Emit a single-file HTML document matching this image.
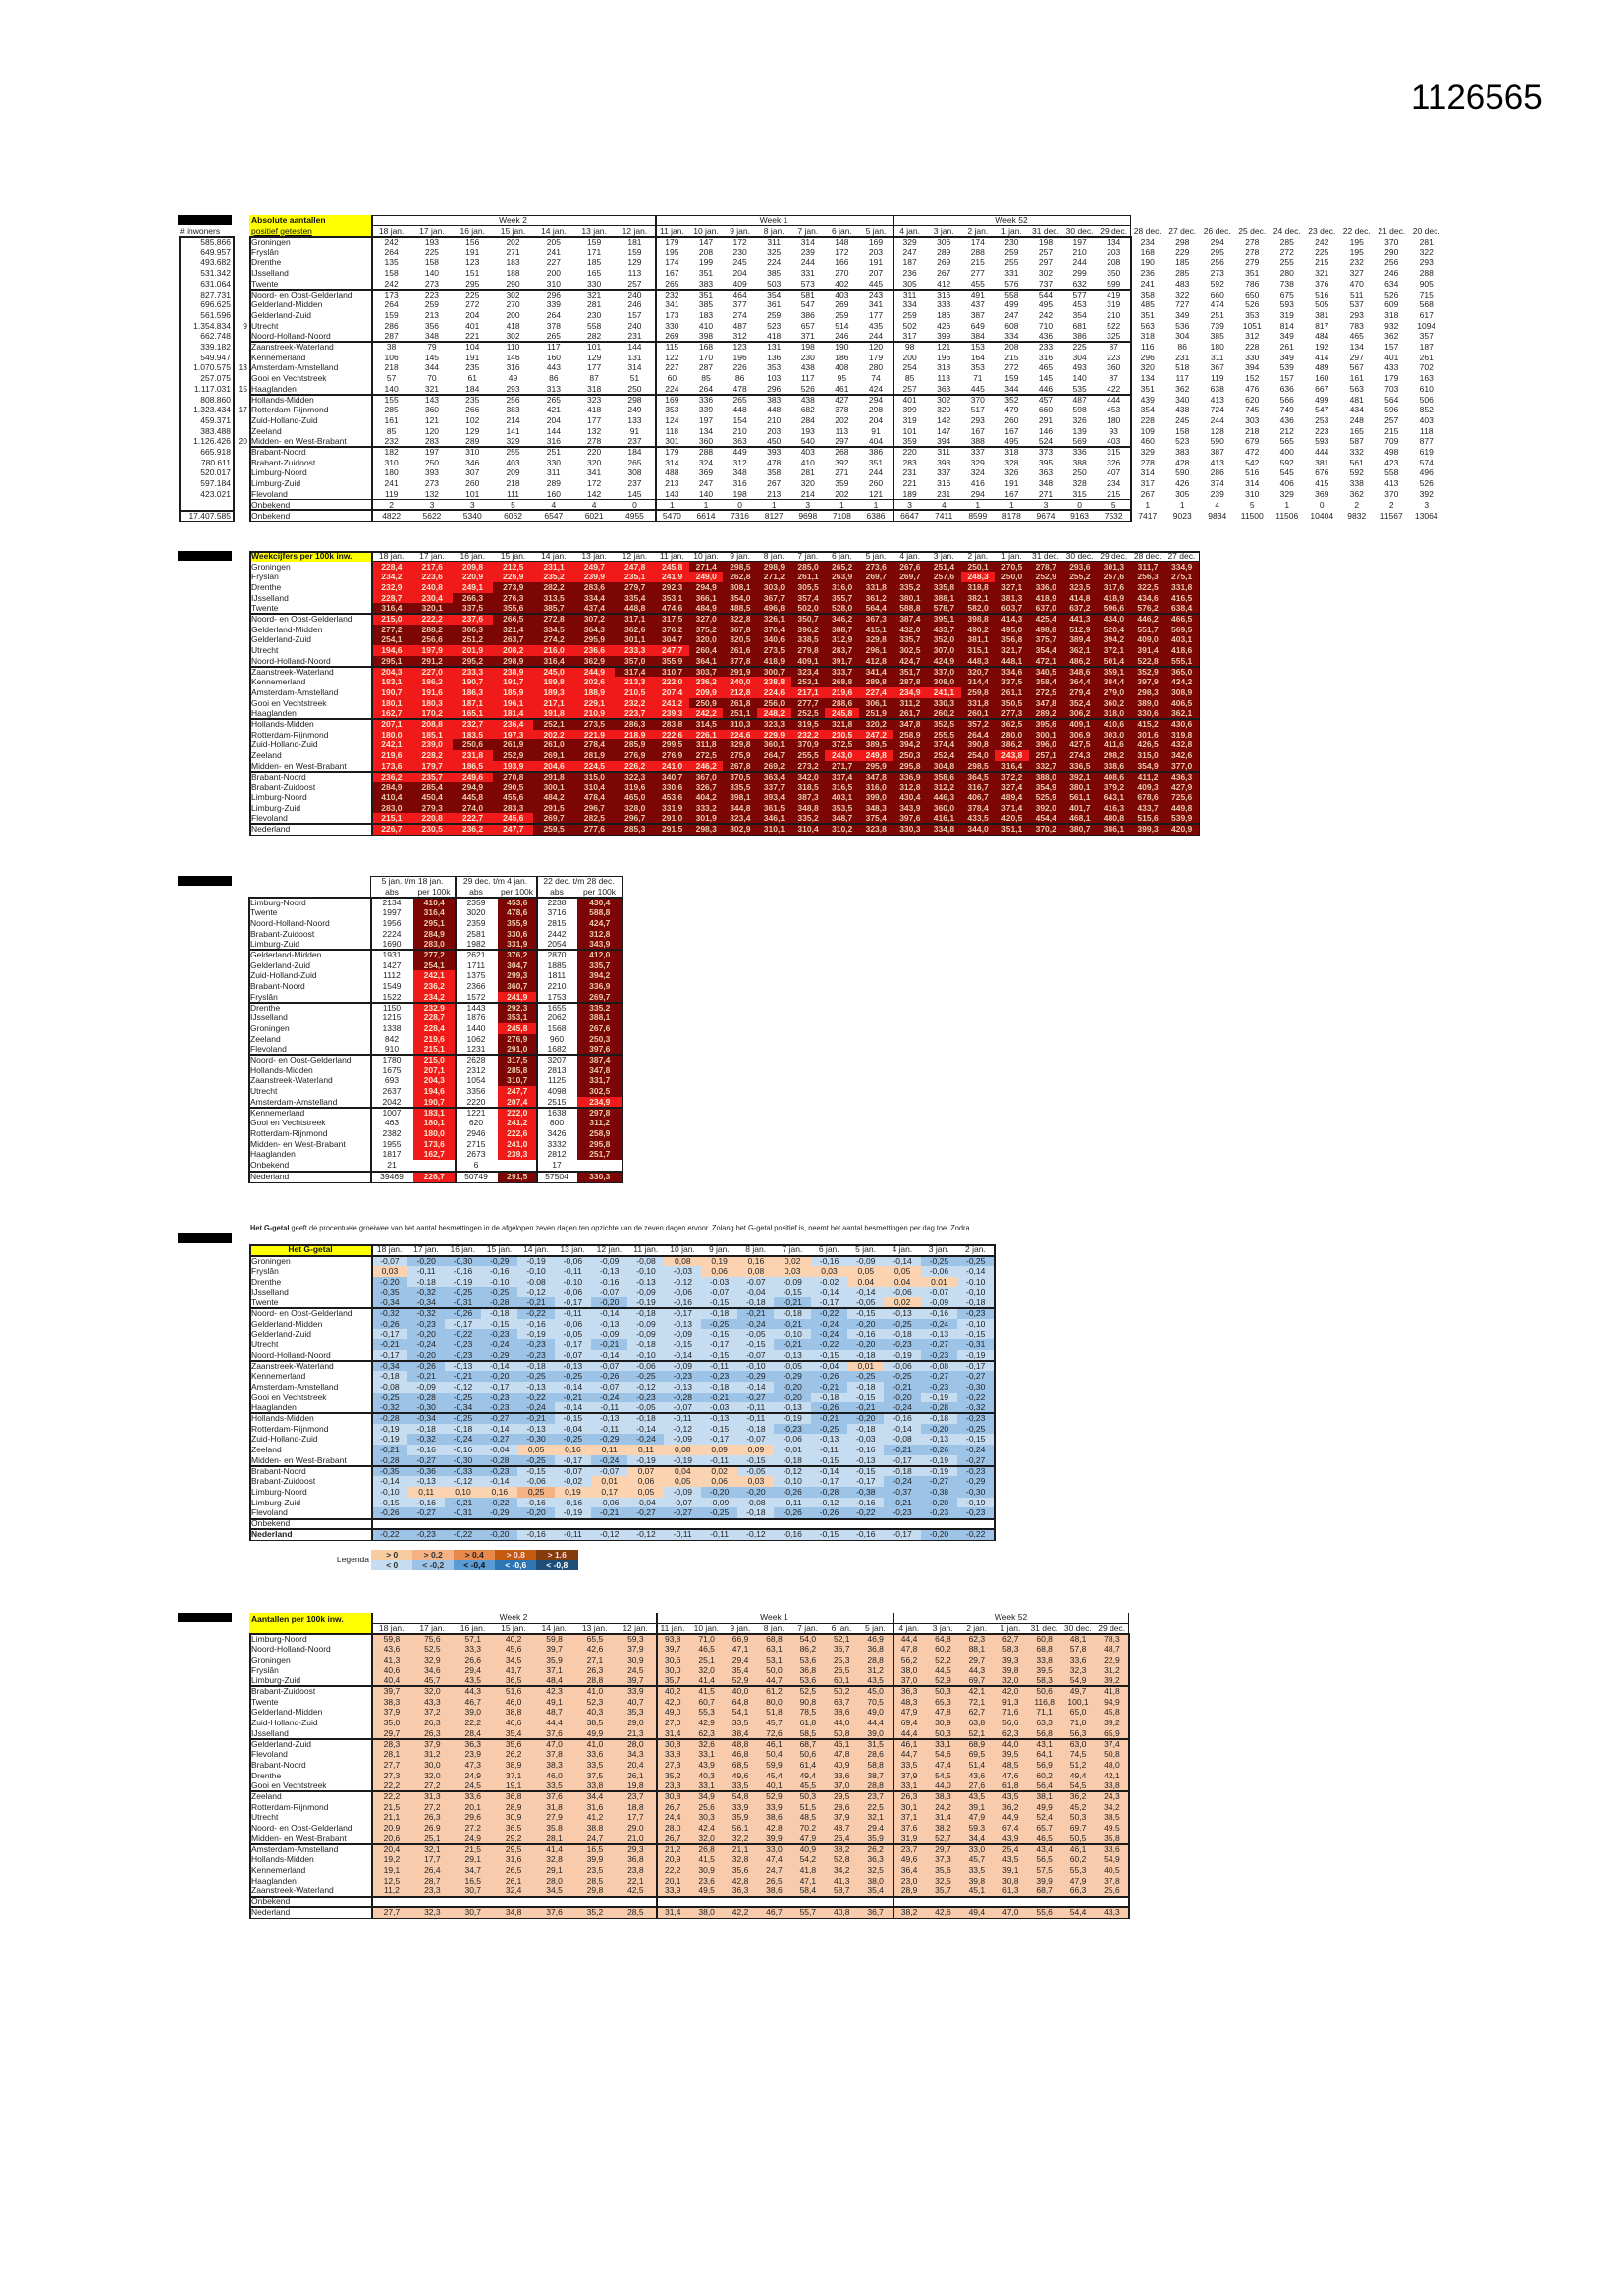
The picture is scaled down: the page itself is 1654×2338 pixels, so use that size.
<!DOCTYPE html>
<html><head><meta charset="utf-8">
<style>
html,body{margin:0;padding:0;background:#fff;}
#p{position:relative;width:1654px;height:2338px;overflow:hidden;background:#fff;font-family:"Liberation Sans Narrow","Liberation Sans",sans-serif;color:#222;}
.c{position:absolute;box-sizing:border-box;font-size:8.5px;white-space:nowrap;overflow:hidden;text-align:center;}
.l{position:absolute;background:#1a1a1a;}
</style></head><body><div id="p">
<div style="position:absolute;left:1437px;top:80px;font-family:'Liberation Sans',sans-serif;font-size:35px;color:#000;">1126565</div>
<div class="c" style="left:255px;top:1245px;width:880px;height:11px;line-height:11px;text-align:left;font-size:8.6px;transform:scaleX(0.86);transform-origin:0 0;"><b>Het G-getal</b> geeft de procentuele groeiwee van het aantal besmettingen in de afgelopen zeven dagen ten opzichte van de zeven dagen ervoor. Zolang het G-getal positief is, neemt het aantal besmettingen per dag toe. Zodra</div>
</div>
<script>
const P=document.getElementById('p');
function box(x,y,w,h,css,txt){const d=document.createElement('div');d.className='c';d.style.cssText='left:'+x+'px;top:'+y+'px;width:'+w+'px;height:'+h+'px;line-height:'+h+'px;'+(css||'');if(txt!=null)d.textContent=txt;P.appendChild(d);return d;}
function hl(x1,x2,y,t){const d=document.createElement('div');d.className='l';d.style.cssText='left:'+x1+'px;top:'+y+'px;width:'+(x2-x1)+'px;height:'+(t||1)+'px;';P.appendChild(d);}
function vl(x,y1,y2,t){const d=document.createElement('div');d.className='l';d.style.cssText='left:'+x+'px;top:'+y1+'px;width:'+(t||1)+'px;height:'+(y2-y1)+'px;';P.appendChild(d);}
function rect(x1,y1,x2,y2,t){hl(x1,x2,y1,t);hl(x1,x2+(t||1),y2,t);vl(x1,y1,y2,t);vl(x2,y1,y2,t);}
function edges(s,sp){const a=[s];for(const [n,w] of sp)for(let i=0;i<n;i++)a.push(a[a.length-1]+w);return a;}
function blk(y,h){box(181,y,55,h||10,'background:#000;');}
const RN=["Groningen","Fryslân","Drenthe","IJsselland","Twente","Noord- en Oost-Gelderland","Gelderland-Midden","Gelderland-Zuid","Utrecht","Noord-Holland-Noord","Zaanstreek-Waterland","Kennemerland","Amsterdam-Amstelland","Gooi en Vechtstreek","Haaglanden","Hollands-Midden","Rotterdam-Rijnmond","Zuid-Holland-Zuid","Zeeland","Midden- en West-Brabant","Brabant-Noord","Brabant-Zuidoost","Limburg-Noord","Limburg-Zuid","Flevoland"];
const YEL='background:#ffff00;font-weight:bold;color:#111;';
const D1=["18 jan.","17 jan.","16 jan.","15 jan.","14 jan.","13 jan.","12 jan.","11 jan.","10 jan.","9 jan.","8 jan.","7 jan.","6 jan.","5 jan.","4 jan.","3 jan.","2 jan.","1 jan.","31 dec.","30 dec.","29 dec.","28 dec.","27 dec.","26 dec.","25 dec.","24 dec.","23 dec.","22 dec.","21 dec.","20 dec."];
const fmt=v=>String(v).replace('.',',');
function groupLines(x1,x2,y0,rh,n){for(let g=5;g<n;g+=5)hl(x1,x2,Math.round(y0+g*rh)-1,2);}

/* ---------- TABLE 1 ---------- */
(function(){
const T=`585.866|242 193 156 202 205 159 181 179 147 172 311 314 148 169 329 306 174 230 198 197 134|234 298 294 278 285 242 195 370 281
649.957|264 225 191 271 241 171 159 195 208 230 325 239 172 203 247 289 288 259 257 210 203|168 229 295 278 272 225 195 290 322
493.682|135 158 123 183 227 185 129 174 199 245 224 244 166 191 187 269 215 255 297 244 208|190 185 256 279 255 215 232 256 293
531.342|158 140 151 188 200 165 113 167 351 204 385 331 270 207 236 267 277 331 302 299 350|236 285 273 351 280 321 327 246 288
631.064|242 273 295 290 310 330 257 265 383 409 503 573 402 445 305 412 455 576 737 632 599|241 483 592 786 738 376 470 634 905
827.731|173 223 225 302 296 321 240 232 351 464 354 581 403 243 311 316 491 558 544 577 419|358 322 660 650 675 516 511 526 715
696.625|264 259 272 270 339 281 246 341 385 377 361 547 269 341 334 333 437 499 495 453 319|485 727 474 526 593 505 537 609 568
561.596|159 213 204 200 264 230 157 173 183 274 259 386 259 177 259 186 387 247 242 354 210|351 349 251 353 319 381 293 318 617
1.354.834|286 356 401 418 378 558 240 330 410 487 523 657 514 435 502 426 649 608 710 681 522|563 536 739 1051 814 817 783 932 1094
662.748|287 348 221 302 265 282 231 269 398 312 418 371 246 244 317 399 384 334 436 386 325|318 304 385 312 349 484 465 362 357
339.182|38 79 104 110 117 101 144 115 168 123 131 198 190 120 98 121 153 208 233 225 87|116 86 180 228 261 192 134 157 187
549.947|106 145 191 146 160 129 131 122 170 196 136 230 186 179 200 196 164 215 316 304 223|296 231 311 330 349 414 297 401 261
1.070.575|218 344 235 316 443 177 314 227 287 226 353 438 408 280 254 318 353 272 465 493 360|320 518 367 394 539 489 567 433 702
257.075|57 70 61 49 86 87 51 60 85 86 103 117 95 74 85 113 71 159 145 140 87|134 117 119 152 157 160 161 179 163
1.117.031|140 321 184 293 313 318 250 224 264 478 296 526 461 424 257 363 445 344 446 535 422|351 362 638 476 636 667 563 703 610
808.860|155 143 235 256 265 323 298 169 336 265 383 438 427 294 401 302 370 352 457 487 444|439 340 413 620 566 499 481 564 506
1.323.434|285 360 266 383 421 418 249 353 339 448 448 682 378 298 399 320 517 479 660 598 453|354 438 724 745 749 547 434 596 852
459.371|161 121 102 214 204 177 133 124 197 154 210 284 202 204 319 142 293 260 291 326 180|228 245 244 303 436 253 248 257 403
383.488|85 120 129 141 144 132 91 118 134 210 203 193 113 91 101 147 167 167 146 139 93|109 158 128 218 212 223 165 215 118
1.126.426|232 283 289 329 316 278 237 301 360 363 450 540 297 404 359 394 388 495 524 569 403|460 523 590 679 565 593 587 709 877
665.918|182 197 310 255 251 220 184 179 288 449 393 403 268 386 220 311 337 318 373 336 315|329 383 387 472 400 444 332 498 619
780.611|310 250 346 403 330 320 265 314 324 312 478 410 392 351 283 393 329 328 395 388 326|278 428 413 542 592 381 561 423 574
520.017|180 393 307 209 311 341 308 488 369 348 358 281 271 244 231 337 324 326 363 250 407|314 590 286 516 545 676 592 558 496
597.184|241 273 260 218 289 172 237 213 247 316 267 320 359 260 221 316 416 191 348 328 234|317 426 374 314 406 415 338 413 526
423.021|119 132 101 111 160 142 145 143 140 198 213 214 202 121 189 231 294 167 271 315 215|267 305 239 310 329 369 362 370 392`.split('\n');
const E=edges(378,[[7,41.3],[7,34.6],[7,34.6]]),X=edges(1151,[[9,35.5]]);
blk(219);
box(254,219,124,21,YEL+'line-height:10.5px;text-align:left;padding-left:2px;white-space:normal;');
P.lastChild.innerHTML='Absolute aantallen<br><span style="font-weight:normal;text-decoration:underline">positief getesten</span>';
box(183,230,60,10,'text-align:left;','# inwoners');
rect(378,219,1151,240);hl(378,1151,229);
box(378,219,289,10,'','Week 2');box(667,219,242,10,'','Week 1');box(909,219,242,10,'','Week 52');
for(let i=0;i<21;i++)box(E[i],230,E[i+1]-E[i],10,'',D1[i]);
for(let i=0;i<9;i++)box(X[i],230,35.5,10,'',D1[21+i]);
const y0=241,rh=10.7;
rect(182,y0-1,237,519,1.5);rect(182,519.5,237,530.5,1.5);
rect(254,y0-1,1151,530.5,1.5);vl(378,219,531,2);vl(667,219,531,1.5);vl(909,219,531,1.5);
groupLines(254,1151,y0,rh,25);hl(254,1151,508,1);hl(254,1151,518,2);
const nums={8:'9',12:'13',14:'15',16:'17',19:'20'};
T.forEach((r,i)=>{const [inh,a,b]=r.split('|');const y=y0+i*rh;
 box(184,y,51,rh,'text-align:right;',inh);
 if(nums[i])box(237,y,16,rh,'text-align:right;padding-right:1px;',nums[i]);
 box(256,y,122,rh,'text-align:left;',RN[i]);
 a.split(' ').forEach((v,j)=>box(E[j],y,E[j+1]-E[j],rh,'',v));
 b.split(' ').forEach((v,j)=>box(X[j],y,35.5,rh,'',v));});
let y=y0+25*rh;
box(256,y,122,rh,'text-align:left;','Onbekend');
"2 3 3 5 4 4 0 1 1 0 1 3 1 1 3 4 1 1 3 0 5".split(' ').forEach((v,j)=>box(E[j],y,E[j+1]-E[j],rh,'',v));
"1 1 4 5 1 0 2 2 3".split(' ').forEach((v,j)=>box(X[j],y,35.5,rh,'',v));
y=520;box(184,y,51,rh,'text-align:right;','17.407.585');box(256,y,122,rh,'text-align:left;','Onbekend');
"4822 5622 5340 6062 6547 6021 4955 5470 6614 7316 8127 9698 7108 6386 6647 7411 8599 8178 9674 9163 7532".split(' ').forEach((v,j)=>box(E[j],y,E[j+1]-E[j],rh,'',v));
"7417 9023 9834 11500 11506 10404 9832 11567 13064".split(' ').forEach((v,j)=>box(X[j],y,35.5,rh,'',v));
})();

/* ---------- TABLE 2 ---------- */
(function(){
const T=`228.4 217.6 209.8 212.5 231.1 249.7 247.8 245.8 271.4 298.5 298.9 285.0 265.2 273.6 267.6 251.4 250.1 270.5 278.7 293.6 301.3 311.7 334.9
234.2 223.6 220.9 226.9 235.2 239.9 235.1 241.9 249.0 262.8 271.2 261.1 263.9 269.7 269.7 257.6 248.3 250.0 252.9 255.2 257.6 256.3 275.1
232.9 240.8 249.1 273.9 282.2 283.6 279.7 292.3 294.9 308.1 303.0 305.5 316.0 331.8 335.2 335.8 318.8 327.1 336.0 323.5 317.6 322.5 331.8
228.7 230.4 266.3 276.3 313.5 334.4 335.4 353.1 366.1 354.0 367.7 357.4 355.7 361.2 380.1 388.1 382.1 381.3 418.9 414.8 418.9 434.6 416.5
316.4 320.1 337.5 355.6 385.7 437.4 448.8 474.6 484.9 488.5 496.8 502.0 528.0 564.4 588.8 578.7 582.0 603.7 637.0 637.2 596.6 576.2 638.4
215.0 222.2 237.6 266.5 272.8 307.2 317.1 317.5 327.0 322.8 326.1 350.7 346.2 367.3 387.4 395.1 398.8 414.3 425.4 441.3 434.0 446.2 466.5
277.2 288.2 306.3 321.4 334.5 364.3 362.6 376.2 375.2 367.8 376.4 396.2 388.7 415.1 432.0 433.7 490.2 495.0 498.8 512.9 520.4 551.7 569.5
254.1 256.6 251.2 263.7 274.2 295.9 301.1 304.7 320.0 320.5 340.6 338.5 312.9 329.8 335.7 352.0 381.1 356.8 375.7 389.4 394.2 409.0 403.1
194.6 197.9 201.9 208.2 216.0 236.6 233.3 247.7 260.4 261.6 273.5 279.8 283.7 296.1 302.5 307.0 315.1 321.7 354.4 362.1 372.1 391.4 418.6
295.1 291.2 295.2 298.9 316.4 362.9 357.0 355.9 364.1 377.8 418.9 409.1 391.7 412.8 424.7 424.9 448.3 448.1 472.1 486.2 501.4 522.8 555.1
204.3 227.0 233.3 238.9 245.0 244.9 317.4 310.7 303.7 291.9 300.7 323.4 333.7 341.4 351.7 337.0 320.7 334.6 340.5 348.6 359.1 352.9 365.0
183.1 186.2 190.7 191.7 189.8 202.6 213.3 222.0 236.2 240.0 238.8 253.1 268.8 289.8 287.8 308.0 314.4 337.5 358.4 364.4 384.4 397.9 424.2
190.7 191.6 186.3 185.9 189.3 188.9 210.5 207.4 209.9 212.8 224.6 217.1 219.6 227.4 234.9 241.1 259.8 261.1 272.5 279.4 279.0 298.3 308.9
180.1 180.3 187.1 196.1 217.1 229.1 232.2 241.2 250.9 261.8 256.0 277.7 288.6 306.1 311.2 330.3 331.8 350.5 347.8 352.4 360.2 389.0 406.5
162.7 170.2 165.1 181.4 191.8 210.9 223.7 239.3 242.2 251.1 248.2 252.5 245.8 251.9 261.7 260.2 260.1 277.3 289.2 306.2 318.0 330.6 362.1
207.1 208.8 232.7 236.4 252.1 273.5 286.3 283.8 314.5 310.3 323.3 319.5 321.8 320.2 347.8 352.5 357.2 362.5 395.6 409.1 410.6 415.2 430.6
180.0 185.1 183.5 197.3 202.2 221.9 218.9 222.6 226.1 224.6 229.9 232.2 230.5 247.2 258.9 255.5 264.4 280.0 300.1 306.9 303.0 301.6 319.8
242.1 239.0 250.6 261.9 261.0 278.4 285.9 299.5 311.8 329.8 360.1 370.9 372.5 389.5 394.2 374.4 390.8 386.2 396.0 427.5 411.6 426.5 432.8
219.6 228.2 231.8 252.9 269.1 281.9 276.9 276.9 272.5 275.9 264.7 255.5 243.0 249.8 250.3 252.4 254.0 243.8 257.1 274.3 298.2 315.0 342.6
173.6 179.7 186.5 193.9 204.6 224.5 226.2 241.0 246.2 267.8 269.2 273.2 271.7 295.9 295.8 304.8 298.5 316.4 332.7 336.5 338.6 354.9 377.0
236.2 235.7 249.6 270.8 291.8 315.0 322.3 340.7 367.0 370.5 363.4 342.0 337.4 347.8 336.9 358.6 364.5 372.2 388.0 392.1 408.6 411.2 436.3
284.9 285.4 294.9 290.5 300.1 310.4 319.6 330.6 326.7 335.5 337.7 318.5 316.5 316.0 312.8 312.2 316.7 327.4 354.9 380.1 379.2 409.3 427.9
410.4 450.4 445.8 455.6 484.2 478.4 465.0 453.6 404.2 398.1 393.4 387.3 403.1 399.0 430.4 446.3 406.7 489.4 525.9 561.1 643.1 678.6 725.6
283.0 279.3 274.0 283.3 291.5 296.7 328.0 331.9 333.2 344.8 361.5 348.8 353.5 348.3 343.9 360.0 378.4 371.4 392.0 401.7 416.3 433.7 449.8
215.1 220.8 222.7 245.6 269.7 282.5 296.7 291.0 301.9 323.4 346.1 335.2 348.7 375.4 397.6 416.1 433.5 420.5 454.4 468.1 480.8 515.6 539.9
226.7 230.5 236.2 247.7 259.5 277.6 285.3 291.5 298.3 302.9 310.1 310.4 310.2 323.8 330.3 334.8 344.0 351.1 370.2 380.7 386.1 399.3 420.9`.split('\n');
const E=edges(378,[[7,41.3],[7,34.6],[9,34.6]]);
blk(561);
box(254,561,124,10.5,YEL+'text-align:left;padding-left:2px;','Weekcijfers per 100k inw.');
for(let i=0;i<23;i++)box(E[i],561,E[i+1]-E[i],10.5,'',D1[i]);
const y0=571.5,rh=10.7,x2=E[23];
T.forEach((r,i)=>{const y=y0+i*rh;
 box(256,y,122,rh,'text-align:left;',i<25?RN[i]:'Nederland');
 r.split(' ').forEach((v,j)=>{const f=parseFloat(v);box(E[j],y,E[j+1]-E[j]+0.5,rh+0.5,(f<250?'background:#f01a1a;color:#ffe6cc;':'background:#7c0505;color:#e9cba6;')+'font-weight:bold;',fmt(v));});});
rect(254,561,x2,y0+26*rh,1.5);vl(378,561,y0+26*rh,2);hl(378,x2,571);
groupLines(254,x2,y0,rh,26);
})();

/* ---------- TABLE 3 ---------- */
(function(){
const T=`Limburg-Noord|2134 410.4 2359 453.6 2238 430.4
Twente|1997 316.4 3020 478.6 3716 588.8
Noord-Holland-Noord|1956 295.1 2359 355.9 2815 424.7
Brabant-Zuidoost|2224 284.9 2581 330.6 2442 312.8
Limburg-Zuid|1690 283.0 1982 331.9 2054 343.9
Gelderland-Midden|1931 277.2 2621 376.2 2870 412.0
Gelderland-Zuid|1427 254.1 1711 304.7 1885 335.7
Zuid-Holland-Zuid|1112 242.1 1375 299.3 1811 394.2
Brabant-Noord|1549 236.2 2366 360.7 2210 336.9
Fryslân|1522 234.2 1572 241.9 1753 269.7
Drenthe|1150 232.9 1443 292.3 1655 335.2
IJsselland|1215 228.7 1876 353.1 2062 388.1
Groningen|1338 228.4 1440 245.8 1568 267.6
Zeeland|842 219.6 1062 276.9 960 250.3
Flevoland|910 215.1 1231 291.0 1682 397.6
Noord- en Oost-Gelderland|1780 215.0 2628 317.5 3207 387.4
Hollands-Midden|1675 207.1 2312 285.8 2813 347.8
Zaanstreek-Waterland|693 204.3 1054 310.7 1125 331.7
Utrecht|2637 194.6 3356 247.7 4098 302.5
Amsterdam-Amstelland|2042 190.7 2220 207.4 2515 234.9
Kennemerland|1007 183.1 1221 222.0 1638 297.8
Gooi en Vechtstreek|463 180.1 620 241.2 800 311.2
Rotterdam-Rijnmond|2382 180.0 2946 222.6 3426 258.9
Midden- en West-Brabant|1955 173.6 2715 241.0 3332 295.8
Haaglanden|1817 162.7 2673 239.3 2812 251.7`.split('\n');
const E=[377,421,463,507,546,588,633];
blk(892);
const G=["5 jan. t/m 18 jan.","29 dec. t/m 4 jan.","22 dec. t/m 28 dec."];
for(let g=0;g<3;g++){box(E[2*g],892,E[2*g+2]-E[2*g],10.5,'',G[g]);box(E[2*g],902.5,E[2*g+1]-E[2*g],10.5,'','abs');box(E[2*g+1],902.5,E[2*g+2]-E[2*g+1],10.5,'','per 100k');}
const y0=913.5,rh=10.7;
T.forEach((r,i)=>{const [n,v]=r.split('|');const y=y0+i*rh;box(255,y,122,rh,'text-align:left;',n);
 v.split(' ').forEach((s,j)=>{if(j%2){const f=parseFloat(s);box(E[j],y,E[j+1]-E[j]+0.5,rh+0.5,(f<250?'background:#f01a1a;color:#ffe6cc;':'background:#7c0505;color:#e9cba6;')+'font-weight:bold;',fmt(s));}else box(E[j],y,E[j+1]-E[j],rh,'',s);});});
let y=y0+25*rh;box(255,y,122,rh,'text-align:left;','Onbekend');box(377,y,44,rh,'','21');box(463,y,44,rh,'','6');box(546,y,42,rh,'','17');
y=1192.5;box(255,y,122,rh,'text-align:left;','Nederland');
["39469","226.7","50749","291.5","57504","330.3"].forEach((s,j)=>{if(j%2){const f=parseFloat(s);box(E[j],y,E[j+1]-E[j]+0.5,rh+0.5,(f<250?'background:#f01a1a;color:#ffe6cc;':'background:#7c0505;color:#e9cba6;')+'font-weight:bold;',fmt(s));}else box(E[j],y,E[j+1]-E[j],rh,'',s);});
rect(377,892,633,913);vl(463,892,1204,1.5);vl(546,892,1204,1.5);
rect(253,913,633,1191.5,1.5);vl(377,913,1204,1.5);groupLines(253,633,y0,rh,25);
rect(253,1192,633,1203.5,1.5);
})();

/* ---------- TABLE 4 ---------- */
(function(){
const T=`-0.07 -0.20 -0.30 -0.29 -0.19 -0.06 -0.09 -0.08 0.08 0.19 0.16 0.02 -0.16 -0.09 -0.14 -0.25 -0.25
0.03 -0.11 -0.16 -0.16 -0.10 -0.11 -0.13 -0.10 -0.03 0.06 0.08 0.03 0.03 0.05 0.05 -0.06 -0.14
-0.20 -0.18 -0.19 -0.10 -0.08 -0.10 -0.16 -0.13 -0.12 -0.03 -0.07 -0.09 -0.02 0.04 0.04 0.01 -0.10
-0.35 -0.32 -0.25 -0.25 -0.12 -0.06 -0.07 -0.09 -0.06 -0.07 -0.04 -0.15 -0.14 -0.14 -0.06 -0.07 -0.10
-0.34 -0.34 -0.31 -0.28 -0.21 -0.17 -0.20 -0.19 -0.16 -0.15 -0.18 -0.21 -0.17 -0.05 0.02 -0.09 -0.18
-0.32 -0.32 -0.26 -0.18 -0.22 -0.11 -0.14 -0.18 -0.17 -0.18 -0.21 -0.18 -0.22 -0.15 -0.13 -0.16 -0.23
-0.26 -0.23 -0.17 -0.15 -0.16 -0.06 -0.13 -0.09 -0.13 -0.25 -0.24 -0.21 -0.24 -0.20 -0.25 -0.24 -0.10
-0.17 -0.20 -0.22 -0.23 -0.19 -0.05 -0.09 -0.09 -0.09 -0.15 -0.05 -0.10 -0.24 -0.16 -0.18 -0.13 -0.15
-0.21 -0.24 -0.23 -0.24 -0.23 -0.17 -0.21 -0.18 -0.15 -0.17 -0.15 -0.21 -0.22 -0.20 -0.23 -0.27 -0.31
-0.17 -0.20 -0.23 -0.29 -0.23 -0.07 -0.14 -0.10 -0.14 -0.15 -0.07 -0.13 -0.15 -0.18 -0.19 -0.23 -0.19
-0.34 -0.26 -0.13 -0.14 -0.18 -0.13 -0.07 -0.06 -0.09 -0.11 -0.10 -0.05 -0.04 0.01 -0.06 -0.08 -0.17
-0.18 -0.21 -0.21 -0.20 -0.25 -0.25 -0.26 -0.25 -0.23 -0.23 -0.29 -0.29 -0.26 -0.25 -0.25 -0.27 -0.27
-0.08 -0.09 -0.12 -0.17 -0.13 -0.14 -0.07 -0.12 -0.13 -0.18 -0.14 -0.20 -0.21 -0.18 -0.21 -0.23 -0.30
-0.25 -0.28 -0.25 -0.23 -0.22 -0.21 -0.24 -0.23 -0.28 -0.21 -0.27 -0.20 -0.18 -0.15 -0.20 -0.19 -0.22
-0.32 -0.30 -0.34 -0.23 -0.24 -0.14 -0.11 -0.05 -0.07 -0.03 -0.11 -0.13 -0.26 -0.21 -0.24 -0.28 -0.32
-0.28 -0.34 -0.25 -0.27 -0.21 -0.15 -0.13 -0.18 -0.11 -0.13 -0.11 -0.19 -0.21 -0.20 -0.16 -0.18 -0.23
-0.19 -0.18 -0.18 -0.14 -0.13 -0.04 -0.11 -0.14 -0.12 -0.15 -0.18 -0.23 -0.25 -0.18 -0.14 -0.20 -0.25
-0.19 -0.32 -0.24 -0.27 -0.30 -0.25 -0.29 -0.24 -0.09 -0.17 -0.07 -0.06 -0.13 -0.03 -0.08 -0.13 -0.15
-0.21 -0.16 -0.16 -0.04 0.05 0.16 0.11 0.11 0.08 0.09 0.09 -0.01 -0.11 -0.16 -0.21 -0.26 -0.24
-0.28 -0.27 -0.30 -0.28 -0.25 -0.17 -0.24 -0.19 -0.19 -0.11 -0.15 -0.18 -0.15 -0.13 -0.17 -0.19 -0.27
-0.35 -0.36 -0.33 -0.23 -0.15 -0.07 -0.07 0.07 0.04 0.02 -0.05 -0.12 -0.14 -0.15 -0.18 -0.19 -0.23
-0.14 -0.13 -0.12 -0.14 -0.06 -0.02 0.01 0.06 0.05 0.06 0.03 -0.10 -0.17 -0.17 -0.24 -0.27 -0.29
-0.10 0.11 0.10 0.16 0.25 0.19 0.17 0.05 -0.09 -0.20 -0.20 -0.26 -0.28 -0.38 -0.37 -0.38 -0.30
-0.15 -0.16 -0.21 -0.22 -0.16 -0.16 -0.06 -0.04 -0.07 -0.09 -0.08 -0.11 -0.12 -0.16 -0.21 -0.20 -0.19
-0.26 -0.27 -0.31 -0.29 -0.20 -0.19 -0.21 -0.27 -0.27 -0.25 -0.18 -0.26 -0.26 -0.22 -0.23 -0.23 -0.23`.split('\n');
const NL="-0.22 -0.23 -0.22 -0.20 -0.16 -0.11 -0.12 -0.12 -0.11 -0.11 -0.12 -0.16 -0.15 -0.16 -0.17 -0.20 -0.22";
const E=edges(378,[[17,37.3]]),x2=E[17];
const col=f=>f>0.2?'#f4b183':f>0?'#fbd3b0':f<=-0.2?'#9dc3e6':'#c6dcf0';
blk(1256);
box(254,1267,124,11,YEL,'Het G-getal');
for(let i=0;i<17;i++)box(E[i],1267,37.3,11,'',D1[i]);
const y0=1278.5,rh=10.7;
const row=(s,y)=>s.split(' ').forEach((v,j)=>{const f=parseFloat(v);box(E[j],y,37.8,rh+0.5,'background:'+col(f)+';',fmt(v));});
T.forEach((r,i)=>{const y=y0+i*rh;box(256,y,122,rh,'text-align:left;',RN[i]);row(r,y);});
box(256,y0+25*rh,122,rh,'text-align:left;','Onbekend');
box(256,1557,122,rh,'text-align:left;font-weight:bold;','Nederland');row(NL,1557);
rect(254,1267,x2,1567.5,1.5);vl(378,1267,1568,2);hl(254,x2,1278,1.5);groupLines(254,x2,y0,rh,25);
hl(254,x2,1546,2);hl(254,x2,1556,2);
box(330,1583,48,11,'text-align:right;padding-right:2px;','Legenda');
const LT=[['> 0','#f8cba0','#333'],['> 0,2','#f4b183','#333'],['> 0,4','#e8884a','#222'],['> 0,8','#c55a11','#fde'],['> 1,6','#843c0c','#fde']];
const LB=[['< 0','#c6dcf0','#333'],['< -0,2','#9dc3e6','#333'],['< -0,4','#5b9bd5','#111'],['< -0,6','#2e75b6','#fff'],['< -0,8','#1f4e79','#fff']];
for(let k=0;k<5;k++){box(378+k*42,1578,42.5,10.5,'background:'+LT[k][1]+';color:'+LT[k][2]+';font-weight:bold;',LT[k][0]);box(378+k*42,1588.5,42.5,10.5,'background:'+LB[k][1]+';color:'+LB[k][2]+';font-weight:bold;',LB[k][0]);}
})();

/* ---------- TABLE 5 ---------- */
(function(){
const T=`Limburg-Noord|59.8 75.6 57.1 40.2 59.8 65.5 59.3 93.8 71.0 66.9 68.8 54.0 52.1 46.9 44.4 64.8 62.3 62.7 60.8 48.1 78.3
Noord-Holland-Noord|43.6 52.5 33.3 45.6 39.7 42.6 37.9 39.7 46.5 47.1 63.1 86.2 36.7 36.8 47.8 60.2 88.1 58.3 68.8 57.8 48.7
Groningen|41.3 32.9 26.6 34.5 35.9 27.1 30.9 30.6 25.1 29.4 53.1 53.6 25.3 28.8 56.2 52.2 29.7 39.3 33.8 33.6 22.9
Fryslân|40.6 34.6 29.4 41.7 37.1 26.3 24.5 30.0 32.0 35.4 50.0 36.8 26.5 31.2 38.0 44.5 44.3 39.8 39.5 32.3 31.2
Limburg-Zuid|40.4 45.7 43.5 36.5 48.4 28.8 39.7 35.7 41.4 52.9 44.7 53.6 60.1 43.5 37.0 52.9 69.7 32.0 58.3 54.9 39.2
Brabant-Zuidoost|39.7 32.0 44.3 51.6 42.3 41.0 33.9 40.2 41.5 40.0 61.2 52.5 50.2 45.0 36.3 50.3 42.1 42.0 50.6 49.7 41.8
Twente|38.3 43.3 46.7 46.0 49.1 52.3 40.7 42.0 60.7 64.8 80.0 90.8 63.7 70.5 48.3 65.3 72.1 91.3 116.8 100.1 94.9
Gelderland-Midden|37.9 37.2 39.0 38.8 48.7 40.3 35.3 49.0 55.3 54.1 51.8 78.5 38.6 49.0 47.9 47.8 62.7 71.6 71.1 65.0 45.8
Zuid-Holland-Zuid|35.0 26.3 22.2 46.6 44.4 38.5 29.0 27.0 42.9 33.5 45.7 61.8 44.0 44.4 69.4 30.9 63.8 56.6 63.3 71.0 39.2
IJsselland|29.7 26.3 28.4 35.4 37.6 49.9 21.3 31.4 62.3 38.4 72.6 58.5 50.8 39.0 44.4 50.3 52.1 62.3 56.8 56.3 65.9
Gelderland-Zuid|28.3 37.9 36.3 35.6 47.0 41.0 28.0 30.8 32.6 48.8 46.1 68.7 46.1 31.5 46.1 33.1 68.9 44.0 43.1 63.0 37.4
Flevoland|28.1 31.2 23.9 26.2 37.8 33.6 34.3 33.8 33.1 46.8 50.4 50.6 47.8 28.6 44.7 54.6 69.5 39.5 64.1 74.5 50.8
Brabant-Noord|27.7 30.0 47.3 38.9 38.3 33.5 20.4 27.3 43.9 68.5 59.9 61.4 40.9 58.8 33.5 47.4 51.4 48.5 56.9 51.2 48.0
Drenthe|27.3 32.0 24.9 37.1 46.0 37.5 26.1 35.2 40.3 49.6 45.4 49.4 33.6 38.7 37.9 54.5 43.6 47.6 60.2 49.4 42.1
Gooi en Vechtstreek|22.2 27.2 24.5 19.1 33.5 33.8 19.8 23.3 33.1 33.5 40.1 45.5 37.0 28.8 33.1 44.0 27.6 61.8 56.4 54.5 33.8
Zeeland|22.2 31.3 33.6 36.8 37.6 34.4 23.7 30.8 34.9 54.8 52.9 50.3 29.5 23.7 26.3 38.3 43.5 43.5 38.1 36.2 24.3
Rotterdam-Rijnmond|21.5 27.2 20.1 28.9 31.8 31.6 18.8 26.7 25.6 33.9 33.9 51.5 28.6 22.5 30.1 24.2 39.1 36.2 49.9 45.2 34.2
Utrecht|21.1 26.3 29.6 30.9 27.9 41.2 17.7 24.4 30.3 35.9 38.6 48.5 37.9 32.1 37.1 31.4 47.9 44.9 52.4 50.3 38.5
Noord- en Oost-Gelderland|20.9 26.9 27.2 36.5 35.8 38.8 29.0 28.0 42.4 56.1 42.8 70.2 48.7 29.4 37.6 38.2 59.3 67.4 65.7 69.7 49.5
Midden- en West-Brabant|20.6 25.1 24.9 29.2 28.1 24.7 21.0 26.7 32.0 32.2 39.9 47.9 26.4 35.9 31.9 52.7 34.4 43.9 46.5 50.5 35.8
Amsterdam-Amstelland|20.4 32.1 21.5 29.5 41.4 16.5 29.3 21.2 26.8 21.1 33.0 40.9 38.2 26.2 23.7 29.7 33.0 25.4 43.4 46.1 33.6
Hollands-Midden|19.2 17.7 29.1 31.6 32.8 39.9 36.8 20.9 41.5 32.8 47.4 54.2 52.8 36.3 49.6 37.3 45.7 43.5 56.5 60.2 54.9
Kennemerland|19.1 26.4 34.7 26.5 29.1 23.5 23.8 22.2 30.9 35.6 24.7 41.8 34.2 32.5 36.4 35.6 33.5 39.1 57.5 55.3 40.5
Haaglanden|12.5 28.7 16.5 26.1 28.0 28.5 22.1 20.1 23.6 42.8 26.5 47.1 41.3 38.0 23.0 32.5 39.8 30.8 39.9 47.9 37.8
Zaanstreek-Waterland|11.2 23.3 30.7 32.4 34.5 29.8 42.5 33.9 49.5 36.3 38.6 58.4 58.7 35.4 28.9 35.7 45.1 61.3 68.7 66.3 25.6`.split('\n');
const NL="27.7 32.3 30.7 34.8 37.6 35.2 28.5 31.4 38.0 42.2 46.7 55.7 40.8 36.7 38.2 42.6 49.4 47.0 55.6 54.4 43.3";
const E=edges(378,[[7,41.4],[7,34.4],[7,34.4]]),x2=E[21];
blk(1642);
box(254,1642,124,21,YEL+'text-align:left;padding-left:2px;line-height:14px;','Aantallen per 100k inw.');
box(378,1642,290,11,'','Week 2');box(668,1642,241,11,'','Week 1');box(909,1642,241,11,'','Week 52');
for(let i=0;i<21;i++)box(E[i],1653,E[i+1]-E[i],10.5,'',D1[i]);
const y0=1663.5,rh=10.7,PE='background:#f8cbad;';
const row=(s,y)=>s.split(' ').forEach((v,j)=>box(E[j],y,E[j+1]-E[j]+0.5,rh+0.5,PE,fmt(v)));
T.forEach((r,i)=>{const [n,v]=r.split('|');const y=y0+i*rh;box(256,y,122,rh,'text-align:left;',n);row(v,y);});
box(256,y0+25*rh,122,rh,'text-align:left;','Onbekend');
box(256,1942,122,rh,'text-align:left;','Nederland');row(NL,1942);
rect(378,1642,x2,1663);hl(378,x2,1653);
rect(254,1663,x2,1952.5,1.5);vl(378,1642,1953,2);vl(668,1642,1953,1.5);vl(909,1642,1953,1.5);
groupLines(254,x2,y0,rh,25);hl(254,x2,1930.5,2);hl(254,x2,1941,2);
})();
</script>
</body></html>
